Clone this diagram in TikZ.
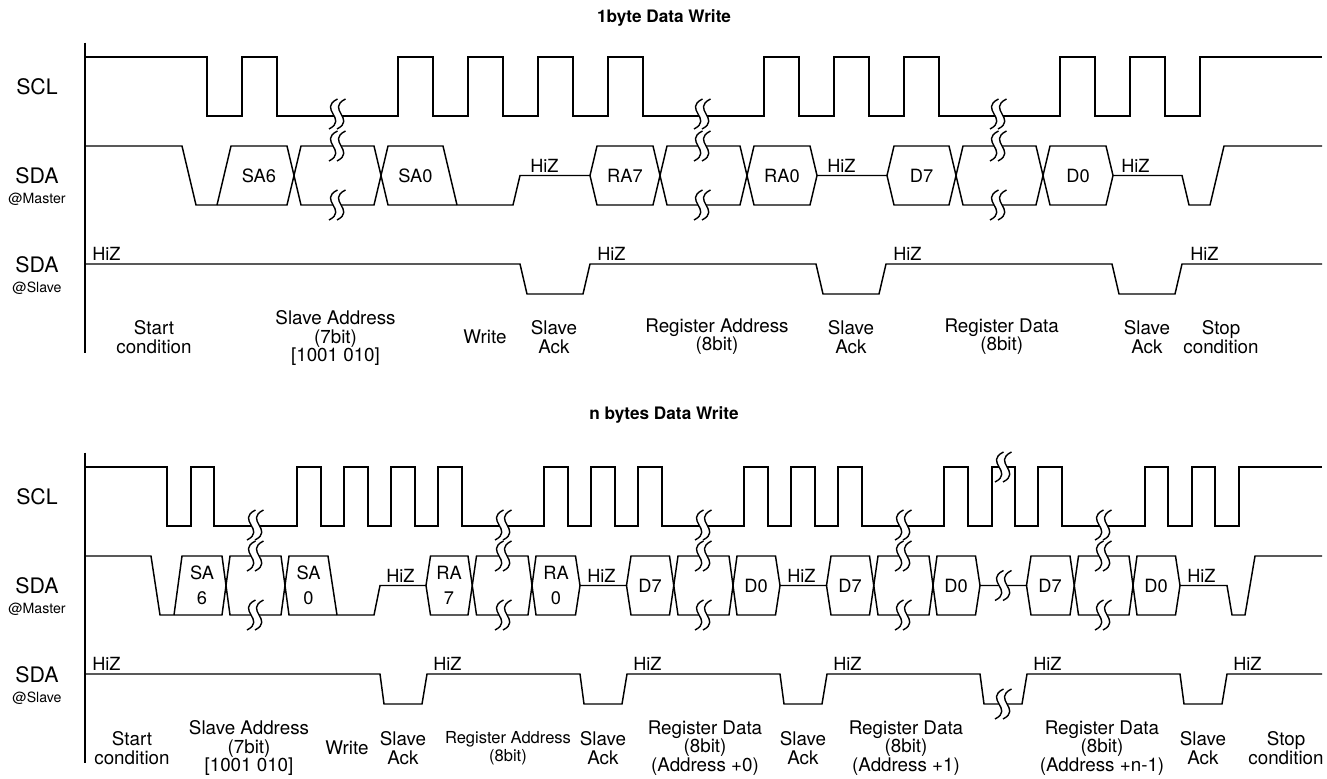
\documentclass[tikz,border=0pt]{standalone}
\usepackage{fontspec}
\setmainfont{TeX Gyre Heros}
\newcommand\brkmark[2]{%
  \fill[white] ({#1+0.5},{#2-15}) .. controls ({#1-19.5},{#2-5}) and ({#1+11.5},{#2+5}) .. ({#1-8},{#2+15})
     -- ({#1+0},{#2+15}) .. controls ({#1+19.5},{#2+5}) and ({#1-11.5},{#2-5}) .. ({#1+8.5},{#2-15}) -- cycle;
  \draw[brk] ({#1+0.5},{#2-15}) .. controls ({#1-19.5},{#2-5}) and ({#1+11.5},{#2+5}) .. ({#1-8},{#2+15});
  \draw[brk] ({#1+8.5},{#2-15}) .. controls ({#1-11.5},{#2-5}) and ({#1+19.5},{#2+5}) .. ({#1+0},{#2+15});
}
\begin{document}
\begin{tikzpicture}[x=0.75pt,y=-0.75pt,
  wave/.style={line width=1.1pt, line join=miter},
  brk/.style={line width=1.05pt},
  sig/.style={font=\fontsize{16}{16}\selectfont, inner sep=0pt},
  subl/.style={font=\fontsize{10.6}{11}\selectfont, inner sep=0pt},
  lbl/.style={font=\fontsize{14.1}{13.7}\selectfont, align=center, inner sep=0pt},
  lbls/.style={font=\fontsize{12.4}{13.7}\selectfont, align=center, inner sep=0pt},
  hiz/.style={font=\fontsize{13.6}{14}\selectfont, inner sep=0pt, anchor=base west},
  boxt/.style={font=\fontsize{13.7}{18.75}\selectfont, align=center, inner sep=0pt},
  ttl/.style={font=\bfseries\fontsize{12.9}{14}\selectfont, inner sep=0pt}
]
\useasboundingbox (0,0) rectangle (1327,778);

%================ TOP DIAGRAM =================
\node[ttl] (ttitle) at (664,18) {1byte Data Write};
\draw[wave] (85,42.7) -- (85,352.7);
% SCL
\draw[wave] (85,57) -- (207,57) -- (207,116) -- (242,116) -- (242,57) -- (277,57) -- (277,116)
 -- (398,116) -- (398,57) -- (433,57) -- (433,116) -- (468,116) -- (468,57) -- (503,57) -- (503,116)
 -- (538,116) -- (538,57) -- (573,57) -- (573,116) -- (608,116) -- (608,57) -- (643,57) -- (643,116)
 -- (764,116) -- (764,57) -- (799,57) -- (799,116) -- (834,116) -- (834,57) -- (869,57) -- (869,116)
 -- (904,116) -- (904,57) -- (939,57) -- (939,116) -- (1060,116) -- (1060,57) -- (1095,57) -- (1095,116)
 -- (1130,116) -- (1130,57) -- (1165,57) -- (1165,116) -- (1200,116) -- (1200,57) -- (1322,57);
% SDA master
\draw[wave] (85,146) -- (182,146) -- (196,205) -- (287,205) -- (301,146) -- (374,146) -- (388,205)
 -- (513,205) -- (520,175.5) -- (590,175.5) -- (597,146) -- (653,146) -- (667,205) -- (740,205)
 -- (754,146) -- (810,146) -- (817,175.5) -- (887,175.5) -- (894,146) -- (949,146) -- (963,205)
 -- (1036,205) -- (1050,146) -- (1106,146) -- (1113,175.5) -- (1182,175.5) -- (1189,205) -- (1210,205)
 -- (1224,146) -- (1322,146);
\draw[wave] (217,205) -- (231,146) -- (287,146) -- (301,205) -- (374,205) -- (388,146) -- (443,146) -- (457,205);
\draw[wave] (590,175.5) -- (597,205) -- (653,205) -- (667,146) -- (740,146) -- (754,205) -- (810,205) -- (817,175.5);
\draw[wave] (887,175.5) -- (894,205) -- (949,205) -- (963,146) -- (1036,146) -- (1050,205) -- (1106,205) -- (1113,175.5);
% SDA slave
\draw[wave] (85,264) -- (520,264) -- (527,294) -- (583,294) -- (590,264) -- (816,264) -- (823,294)
 -- (879,294) -- (886,264) -- (1112,264) -- (1119,294) -- (1175,294) -- (1182,264) -- (1322,264);
% breaks
\foreach \bx in {337,702,998} {\brkmark{\bx}{114}\brkmark{\bx}{146}\brkmark{\bx}{205}}
% names
\node[sig] (tscl) at (37,87) {SCL};
\node[sig] (tsdam) at (37,175.5) {SDA};
\node[subl] (tmas) at (37,199) {@Master};
\node[sig] (tsdas) at (37,264.5) {SDA};
\node[subl] (tsla) at (37,288) {@Slave};
% box texts
\node[boxt] (tsa6) at (259,175.5) {SA6};
\node[boxt] (tsa0) at (415.5,175.5) {SA0};
\node[boxt] (tra7) at (625,175.5) {RA7};
\node[boxt] (tra0) at (782,175.5) {RA0};
\node[boxt] (td7) at (921.5,175.5) {D7};
\node[boxt] (td0) at (1078,175.5) {D0};
% HiZ
\node[hiz] (thm1) at (530,172) {HiZ};
\node[hiz] (thm2) at (827,172) {HiZ};
\node[hiz] (thm3) at (1121,172) {HiZ};
\node[hiz] (ths1) at (92,260) {HiZ};
\node[hiz] (ths2) at (597,260) {HiZ};
\node[hiz] (ths3) at (893,260) {HiZ};
\node[hiz] (ths4) at (1190,260) {HiZ};
% labels
\node[lbl] (tl1) at (154,337) {Start\\condition};
\node[lbl] (tl2) at (335.5,338) {Slave Address\\(7bit)\\{[1001 010]}};
\node[lbl] (tl3) at (485,337) {Write};
\node[lbl] (tl4) at (554,337) {Slave\\Ack};
\node[lbl] (tl5) at (717,337) {Register Address\\(8bit)};
\node[lbl] (tl6) at (851,337) {Slave\\Ack};
\node[lbl] (tl7) at (1001.7,337) {Register Data\\(8bit)};
\node[lbl] (tl8) at (1147,337) {Slave\\Ack};
\node[lbl] (tl9) at (1221,337) {Stop\\condition};

%================ BOTTOM DIAGRAM =================
\node[ttl] (btitle) at (664,415) {n bytes Data Write};
\draw[wave] (85,452.7) -- (85,763.3);
% SCL
\draw[wave] (85,467) -- (167,467) -- (167,526) -- (191,526) -- (191,467) -- (214,467) -- (214,526)
 -- (297,526) -- (297,467) -- (321,467) -- (321,526) -- (344,526) -- (344,467) -- (368,467) -- (368,526)
 -- (391,526) -- (391,467) -- (415,467) -- (415,526) -- (438,526) -- (438,467) -- (462,467) -- (462,526)
 -- (544,526) -- (544,467) -- (568,467) -- (568,526) -- (591,526) -- (591,467) -- (615,467) -- (615,526)
 -- (638,526) -- (638,467) -- (662,467) -- (662,526)
 -- (744,526) -- (744,467) -- (768,467) -- (768,526) -- (791,526) -- (791,467) -- (815,467) -- (815,526)
 -- (838,526) -- (838,467) -- (862,467) -- (862,526)
 -- (944,526) -- (944,467) -- (968,467) -- (968,526) -- (992,526) -- (992,467) -- (1015,467) -- (1015,526)
 -- (1038,526) -- (1038,467) -- (1062,467) -- (1062,526)
 -- (1145,526) -- (1145,467) -- (1168,467) -- (1168,526) -- (1192,526) -- (1192,467) -- (1215,467) -- (1215,526)
 -- (1239,526) -- (1239,467) -- (1322,467);
% SDA master
\draw[wave] (85,556) -- (151,556) -- (160,615) -- (222,615) -- (230,556) -- (281,556) -- (289,615)
 -- (374,615) -- (380,585.5) -- (426,585.5) -- (430.5,556) -- (468,556) -- (476.5,615) -- (528,615)
 -- (536,556) -- (575.5,556) -- (580,585.5) -- (626.5,585.5) -- (631,556) -- (669.5,556) -- (678,615)
 -- (729,615) -- (737,556) -- (775.5,556) -- (780,585.5) -- (826.5,585.5) -- (831,556) -- (869.5,556)
 -- (878,615) -- (929,615) -- (937,556) -- (975.5,556) -- (980,585.5) -- (1026.5,585.5) -- (1031,556)
 -- (1070,556) -- (1078.5,615) -- (1129,615) -- (1137,556) -- (1175.5,556) -- (1180,585.5) -- (1227,585.5)
 -- (1232,615) -- (1245,615) -- (1255,556) -- (1322,556);
\draw[wave] (174,615) -- (182,556) -- (222,556) -- (230,615) -- (281,615) -- (289,556) -- (328,556) -- (337,615);
\draw[wave] (426,585.5) -- (430.5,615) -- (468,615) -- (476.5,556) -- (528,556) -- (536,615) -- (575.5,615) -- (580,585.5);
\draw[wave] (626.5,585.5) -- (631,615) -- (669.5,615) -- (678,556) -- (729,556) -- (737,615) -- (775.5,615) -- (780,585.5);
\draw[wave] (826.5,585.5) -- (831,615) -- (869.5,615) -- (878,556) -- (929,556) -- (937,615) -- (975.5,615) -- (980,585.5);
\draw[wave] (1026.5,585.5) -- (1031,615) -- (1070,615) -- (1078.5,556) -- (1129,556) -- (1137,615) -- (1175.5,615) -- (1180,585.5);
% SDA slave
\draw[wave] (85,674) -- (380,674) -- (384,704) -- (422,704) -- (427,674) -- (580,674) -- (584,704)
 -- (622,704) -- (627,674) -- (780,674) -- (784,704) -- (822,704) -- (827,674) -- (980,674) -- (984,704)
 -- (1022,704) -- (1027,674) -- (1180,674) -- (1184,704) -- (1222,704) -- (1227,674) -- (1322,674);
% breaks
\foreach \bx in {255,503,703,903,1103} {\brkmark{\bx}{525}\brkmark{\bx}{556}\brkmark{\bx}{615}}
\brkmark{1003}{467}\brkmark{1003}{585.5}\brkmark{1003}{704}
% names
\node[sig] (bscl) at (37,497) {SCL};
\node[sig] (bsdam) at (37,585.5) {SDA};
\node[subl] (bmas) at (37,609) {@Master};
\node[sig] (bsdas) at (37,674.5) {SDA};
\node[subl] (bsla) at (37,698) {@Slave};
% box texts
\node[boxt] (bsa6) at (202,585.5) {SA\\6};
\node[boxt] (bsa0) at (308.5,585.5) {SA\\0};
\node[boxt] (bra7) at (449,585.5) {RA\\7};
\node[boxt] (bra0) at (556,585.5) {RA\\0};
\node[boxt] (bd7a) at (650,585.5) {D7};
\node[boxt] (bd0a) at (756,585.5) {D0};
\node[boxt] (bd7b) at (850,585.5) {D7};
\node[boxt] (bd0b) at (956,585.5) {D0};
\node[boxt] (bd7c) at (1050,585.5) {D7};
\node[boxt] (bd0c) at (1156,585.5) {D0};
% HiZ
\node[hiz] (bhm1) at (386,582) {HiZ};
\node[hiz] (bhm2) at (587,582) {HiZ};
\node[hiz] (bhm3) at (787,582) {HiZ};
\node[hiz] (bhm4) at (1187,582) {HiZ};
\node[hiz] (bhs1) at (92,670) {HiZ};
\node[hiz] (bhs2) at (433,670) {HiZ};
\node[hiz] (bhs3) at (633,670) {HiZ};
\node[hiz] (bhs4) at (833,670) {HiZ};
\node[hiz] (bhs5) at (1033,670) {HiZ};
\node[hiz] (bhs6) at (1233,670) {HiZ};
% labels
\node[lbl] (bl1) at (132,748) {Start\\condition};
\node[lbl] (bl2) at (249,748) {Slave Address\\(7bit)\\{[1001 010]}};
\node[lbl] (bl3) at (347,748) {Write};
\node[lbl] (bl4) at (403,748) {Slave\\Ack};
\node[lbls] (bl5) at (508,748) {Register Address\\(8bit)};
\node[lbl] (bl6) at (603,748) {Slave\\Ack};
\node[lbl] (bl7) at (705,748) {Register Data\\(8bit)\\(Address +0)};
\node[lbl] (bl8) at (803,748) {Slave\\Ack};
\node[lbl] (bl9) at (906,748) {Register Data\\(8bit)\\(Address +1)};
\node[lbl] (bl10) at (1102,748) {Register Data\\(8bit)\\(Address +n-1)};
\node[lbl] (bl11) at (1203,748) {Slave\\Ack};
\node[lbl] (bl12) at (1286,748) {Stop\\condition};
\end{tikzpicture}
\end{document}
